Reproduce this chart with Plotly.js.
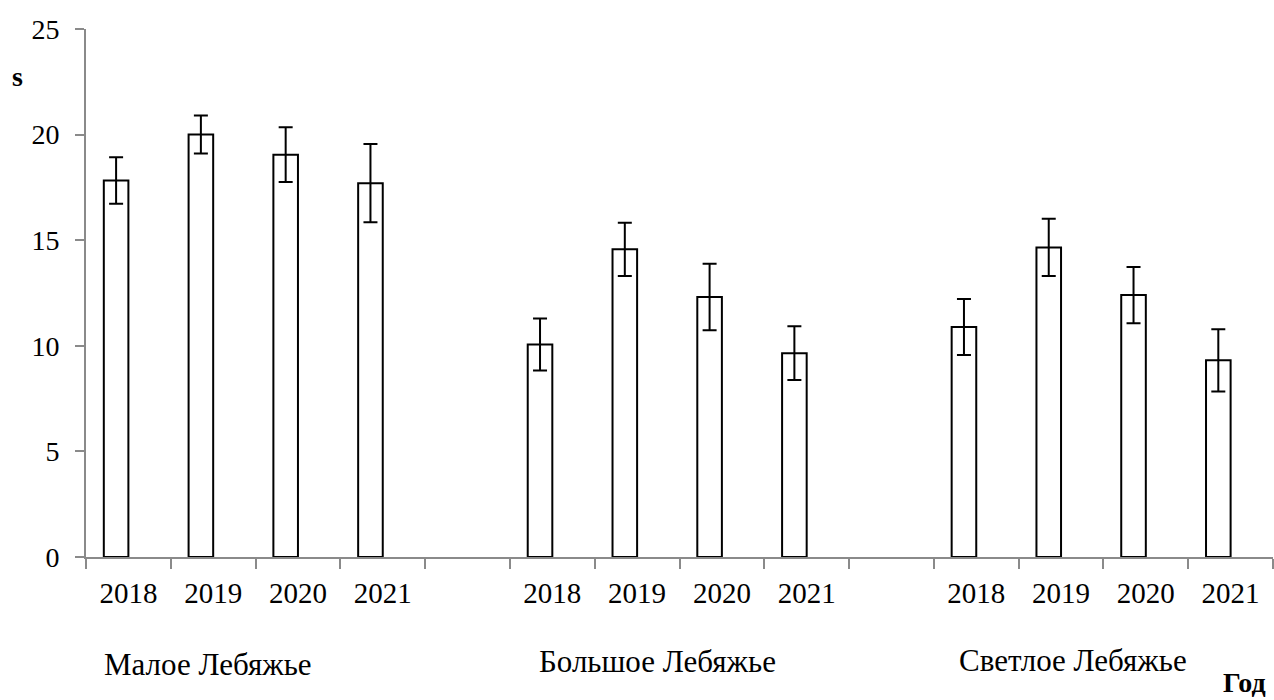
<!DOCTYPE html>
<html>
<head>
<meta charset="utf-8">
<script src="https://cdn.plot.ly/plotly-3.0.1.min.js"></script>
<style>html,body{margin:0;padding:0;background:#fff;}#chart{width:1274px;height:700px;}</style>
</head>
<body>
<div id="chart"></div>
<script>
// Data
const groups = ['Малое Лебяжье', 'Большое Лебяжье', 'Светлое Лебяжье'];
const years = ['2018', '2019', '2020', '2021'];
const maloe = [17.83, 20.0, 19.05, 17.7];
const maloeErr = [1.1, 0.9, 1.3, 1.85];
const bolshoe = [10.06, 14.57, 12.31, 9.65];
const bolshoeErr = [1.23, 1.26, 1.57, 1.27];
const svetloe = [10.89, 14.66, 12.4, 9.31];
const svetloeErr = [1.32, 1.36, 1.33, 1.47];
const yTitle = 's';
const xTitle = 'Год';

// Build positions: 4 years per group, one empty slot between groups
const seriesVals = [maloe, bolshoe, svetloe];
const seriesErr = [maloeErr, bolshoeErr, svetloeErr];
const xs = [], ys = [], es = [], tickvals = [], ticktext = [];
let pos = 0;
const groupStart = [];
seriesVals.forEach((vals, g) => {
  groupStart.push(pos);
  vals.forEach((v, i) => {
    xs.push(pos); ys.push(v); es.push(seriesErr[g][i]);
    tickvals.push(pos); ticktext.push(years[i]);
    pos++;
  });
  if (g < seriesVals.length - 1) pos++;
});
const nSlots = pos;
const boundaries = [];
for (let i = 0; i <= nSlots; i++) boundaries.push(i - 0.5);

const barW = 0.29;
const trace = {
  type: 'bar',
  x: xs, y: ys,
  width: barW, offset: -barW,
  marker: {color: '#ffffff', line: {color: '#000000', width: 2}},
  error_y: {type: 'data', array: es, visible: true, color: '#000000', thickness: 2, width: 7},
  hoverinfo: 'none'
};

const axisGray = '#8a8a8a';
const font = {family: '"Liberation Serif", "Times New Roman", serif', color: '#000000'};

// label placement (layout only)
const labelDx = [-0.315, -0.18, -0.23];
const labelDy = [-107, -104, -103];
const annotations = groups.map((g, k) => ({
  text: g, xref: 'x', yref: 'paper', x: groupStart[k] + labelDx[k], y: 0, yshift: labelDy[k],
  xanchor: 'left', yanchor: 'middle', showarrow: false,
  font: Object.assign({}, font, {size: 31})
}));
annotations.push({
  text: '<b>' + yTitle + '</b>', xref: 'paper', yref: 'paper', x: 0, y: 1, xshift: -69, yshift: -47,
  xanchor: 'center', yanchor: 'middle', showarrow: false,
  font: Object.assign({}, font, {size: 28})
});
annotations.push({
  text: '<b>' + xTitle + '</b>', xref: 'paper', yref: 'paper', x: 1, y: 0, xshift: -5, yshift: -125,
  xanchor: 'right', yanchor: 'middle', showarrow: false,
  font: Object.assign({}, font, {size: 28})
});

const layout = {
  width: 1274, height: 700,
  margin: {l: 86, r: 1, t: 29, b: 143},
  paper_bgcolor: '#ffffff', plot_bgcolor: '#ffffff',
  showlegend: false,
  font: font,
  xaxis: {
    range: [-0.5, nSlots - 0.5],
    tickmode: 'array', tickvals: tickvals, ticktext: ticktext,
    ticks: '', showgrid: false, zeroline: false,
    showline: true, linecolor: axisGray, linewidth: 2,
    tickfont: Object.assign({}, font, {size: 29}),
    ticklabelstandoff: 9,
    minor: {tickmode: 'array', tickvals: boundaries, ticks: 'outside', ticklen: 10, tickwidth: 2, tickcolor: axisGray, showgrid: false}
  },
  yaxis: {
    range: [0, 25], dtick: 5, tick0: 0,
    ticks: 'outside', ticklen: 9, tickwidth: 2, tickcolor: axisGray,
    showgrid: false, zeroline: false,
    showline: true, linecolor: axisGray, linewidth: 2,
    tickfont: Object.assign({}, font, {size: 28}),
    ticklabelstandoff: 10
  },
  annotations: annotations
};

Plotly.newPlot('chart', [trace], layout, {displayModeBar: false, staticPlot: true});
</script>
</body>
</html>
